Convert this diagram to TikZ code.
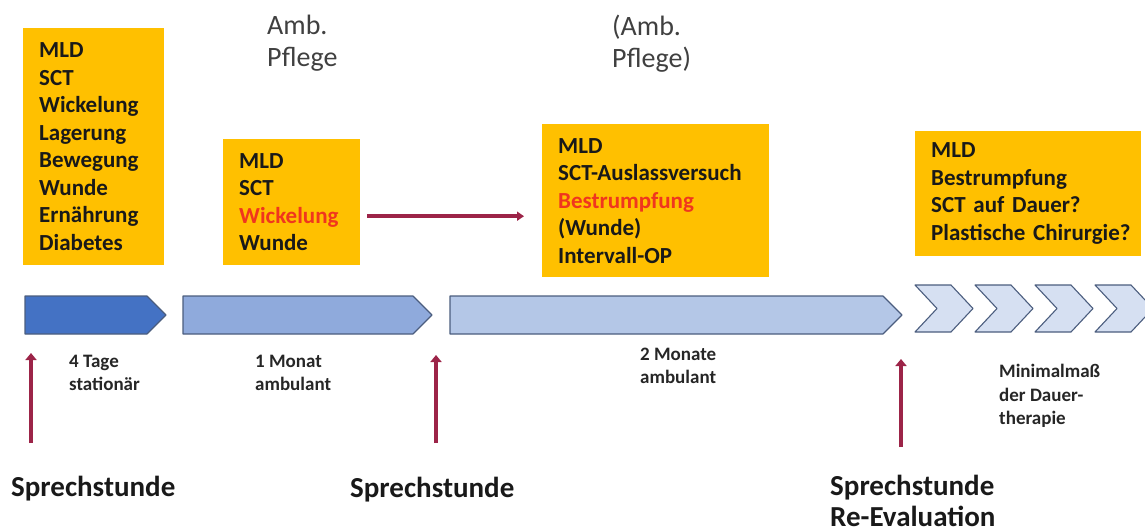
\documentclass[tikz,border=0pt]{standalone}
\usepackage{fontspec}
\setmainfont{Carlito}
\usetikzlibrary{arrows.meta}

\definecolor{planGold}{HTML}{FFC000}
\definecolor{planRed}{HTML}{F0361E}
\definecolor{visitRed}{HTML}{9C2448}
\definecolor{phaseDark}{HTML}{4472C4}
\definecolor{phaseMid}{HTML}{8FAADC}
\definecolor{phaseLight}{HTML}{B4C7E7}
\definecolor{phaseChev}{HTML}{D6E0F2}
\definecolor{phaseLine}{HTML}{4B5D7E}
\definecolor{careGray}{HTML}{404040}

\tikzset{
    massbox/.style = {fill=planGold, anchor=north west, inner xsep=16pt, inner ysep=0pt,
        align=left, text=black!90, font={\bfseries\fontsize{23}{27.5}\selectfont}},
    phase/.style = {draw=phaseLine, line width=1.1pt, line join=round},
    chevron/.style = {phase, fill=phaseChev},
    visit/.style = {draw=visitRed, line width=4.5pt, -{Triangle[width=11pt,length=7pt]}},
    flow/.style = {draw=visitRed, line width=3.5pt, -{Triangle[width=9pt,length=7pt]}},
    duration/.style = {anchor=west, inner sep=0pt, align=left, text=black!85,
        font={\bfseries\fontsize{19}{23.5}\selectfont}},
    care/.style = {anchor=north west, inner sep=0pt, align=left, text=careGray,
        font={\fontsize{28}{32}\selectfont}},
    meeting/.style = {anchor=north west, inner sep=0pt, align=left, text=black!90,
        font={\bfseries\fontsize{29}{30.5}\selectfont}}
}

\begin{document}
\begin{tikzpicture}[x=1pt, y=-1pt]
    \useasboundingbox (0,0) rectangle (1145,532);

    % measures per phase
    \node[massbox, text width=109pt, minimum height=237pt] (stat) at (23,28)
        {MLD\\SCT\\Wickelung\\Lagerung\\Bewegung\\Wunde\\Ernährung\\Diabetes};
    \node[massbox, text width=105pt, minimum height=126pt] (amb1) at (223,139)
        {MLD\\SCT\\\textcolor{planRed}{Wickelung}\\Wunde};
    \node[massbox, text width=195pt, minimum height=153pt] (amb2) at (542,124)
        {MLD\\SCT-Auslassversuch\\\textcolor{planRed}{Bestrumpfung}\\(Wunde)\\Intervall-OP};
    \node[massbox, text width=194pt, minimum height=125pt] (dauer) at (915,131)
        {MLD\\Bestrumpfung\\SCT auf Dauer?\\\mbox{Plastische Chirurgie?}};

    \draw[flow] ([xshift=7pt, yshift=-14pt]amb1.east) -- ([xshift=-18pt, yshift=-15.5pt]amb2.west);

    % care notes
    \node[care] (care1) at (267,15) {Amb.\\Pflege};
    \node[care] (care2) at (612,15) {(Amb.\\Pflege)};

    % time line
    \filldraw[phase, fill=phaseDark] (25,296) -- (147,296) -- (166,315) -- (147,334) -- (25,334) -- cycle;
    \filldraw[phase, fill=phaseMid] (183,296) -- (413,296) -- (432,315) -- (413,334) -- (183,334) -- cycle;
    \filldraw[phase, fill=phaseLight] (450,296) -- (883,296) -- (902,315) -- (883,334) -- (450,334) -- cycle;
    \foreach \x in {915,975,1035,1095}
        \filldraw[chevron] (\x,285) -- ++(36,0) -- ++(22,23.5) -- ++(-22,23.5) -- ++(-36,0) -- ++(22,-23.5) -- cycle;

    % durations
    \node[duration] (d1) at (69,373) {4 Tage\\stationär};
    \node[duration] (d2) at (255,373) {1 Monat\\ambulant};
    \node[duration] (d3) at (640,366) {2 Monate\\ambulant};
    \node[duration] (d4) at (999,396) {Minimalmaß\\der Dauer-\\therapie};

    % consultations
    \node[meeting] (s1) at (11,476) {Sprechstunde};
    \node[meeting] (s2) at (350,477) {Sprechstunde};
    \node[meeting] (s3) at (830,475) {Sprechstunde\\Re-Evaluation};

    \coordinate (v1) at (31,443);
    \coordinate (v1t) at (31,353);
    \coordinate (v2) at (436,443);
    \coordinate (v2t) at (436,355);
    \coordinate (v3) at (901,447);
    \coordinate (v3t) at (901,359);
    \draw[visit] (v1) -- (v1t);
    \draw[visit] (v2) -- (v2t);
    \draw[visit] (v3) -- (v3t);
\end{tikzpicture}
\end{document}
